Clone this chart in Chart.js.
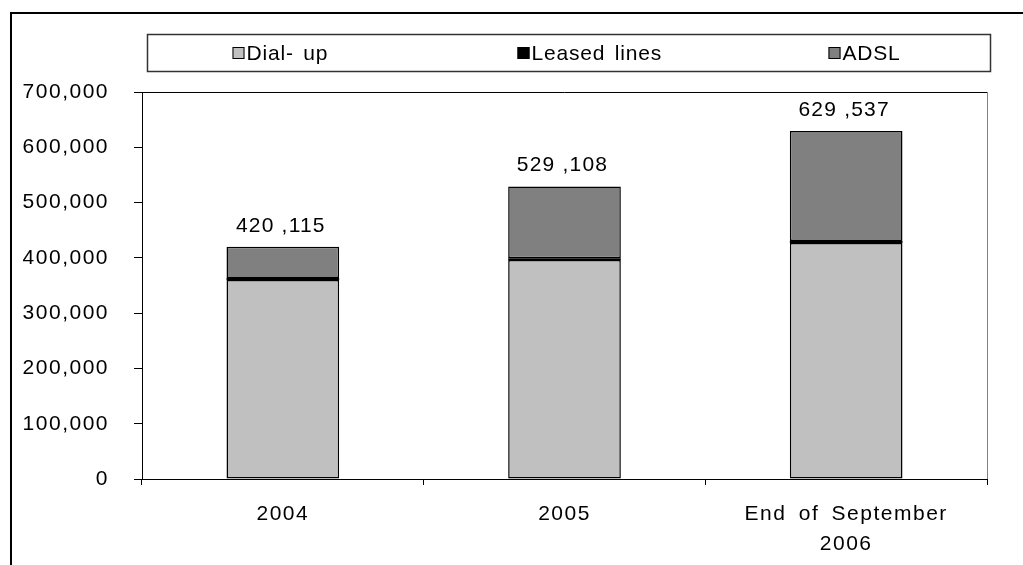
<!DOCTYPE html>
<html>
<head>
<meta charset="utf-8">
<script src="https://cdn.jsdelivr.net/npm/chart.js@4/dist/chart.umd.min.js"></script>
<style>
  html, body { margin: 0; padding: 0; background: #fff; }
  #wrap { width: 1023px; height: 565px; }
</style>
</head>
<body>
<div id="wrap"><canvas id="c" width="1023" height="565"></canvas></div>
<script>
// Internet subscribers by access type
const categories = ['2004', '2005', ['End of September', '2006']];
const seriesNames = ['Dial- up', 'Leased lines', 'ADSL'];
const dialUp = [360000, 396000, 427000];
const leasedLines = [3500, 3500, 3500];
const adsl = [56615, 129608, 199037];
const yTickValues = [0, 100000, 200000, 300000, 400000, 500000, 600000, 700000];
const seriesColors = ['#C0C0C0', '#000000', '#808080'];

const FONT = "'Liberation Sans', Arial, sans-serif";

function fmtTick(v) {
  return v.toLocaleString('en-US');
}
function fmtTotal(v) {
  const hi = Math.floor(v / 1000);
  const lo = String(v % 1000).padStart(3, '0');
  return hi + ' ,' + lo;
}

// wide text tracking used for the axis labels
function applySpacing(chart) {
  chart.ctx.letterSpacing = '1.5px';
  chart.ctx.wordSpacing = '5px';
}
const spacingPlugin = {
  id: 'spacing',
  beforeInit: applySpacing,
  beforeUpdate: applySpacing,
  beforeLayout: applySpacing,
  beforeDraw: applySpacing
};

// outer frame, legend box and stack totals
const legendOffsets = [85, 370, 681];
const framePlugin = {
  id: 'frame',
  beforeDraw(chart) {
    const ctx = chart.ctx;
    ctx.save();
    ctx.fillStyle = '#fff';
    ctx.fillRect(0, 0, chart.width, chart.height);
    ctx.strokeStyle = '#000';
    ctx.lineWidth = 2;
    ctx.beginPath();
    ctx.moveTo(11, chart.height);
    ctx.lineTo(11, 13);
    ctx.lineTo(chart.width, 13);
    ctx.stroke();

    // legend
    const bx = 147.5, by = 34.5, bw = 843, bh = 37;
    ctx.strokeStyle = '#333';
    ctx.lineWidth = 1.5;
    ctx.strokeRect(bx, by, bw, bh);
    ctx.font = '21px ' + FONT;
    ctx.letterSpacing = '0.8px';
    ctx.wordSpacing = '3px';
    ctx.textBaseline = 'middle';
    ctx.textAlign = 'left';
    const sq = 12;
    chart.data.datasets.forEach((d, i) => {
      const x0 = bx + legendOffsets[i];
      const cy = by + bh / 2;
      ctx.fillStyle = d.backgroundColor;
      ctx.fillRect(x0, cy - sq / 2, sq, sq);
      ctx.strokeStyle = '#000';
      ctx.lineWidth = 1;
      ctx.strokeRect(x0 + 0.5, cy - sq / 2 + 0.5, sq - 1, sq - 1);
      ctx.fillStyle = '#000';
      ctx.fillText(d.label, x0 + sq + 2, cy + 1);
    });
    ctx.restore();
  },
  afterDatasetsDraw(chart) {
    const ctx = chart.ctx;
    const a = chart.chartArea;
    ctx.save();
    // plot area border (top / right)
    ctx.lineWidth = 1;
    ctx.strokeStyle = '#000';
    ctx.beginPath();
    ctx.moveTo(a.left, a.top + 0.5);
    ctx.lineTo(a.right, a.top + 0.5);
    ctx.stroke();
    ctx.strokeStyle = '#808080';
    ctx.beginPath();
    ctx.moveTo(a.right + 0.5, a.top);
    ctx.lineTo(a.right + 0.5, a.bottom);
    ctx.stroke();

    // stack totals above bars
    const y = chart.scales.y;
    const meta = chart.getDatasetMeta(0);
    ctx.font = '21px ' + FONT;
    ctx.letterSpacing = '1.2px';
    ctx.wordSpacing = '0px';
    ctx.fillStyle = '#000';
    ctx.textAlign = 'center';
    ctx.textBaseline = 'alphabetic';
    chart.data.labels.forEach((_, i) => {
      let total = 0;
      chart.data.datasets.forEach(d => { total += d.data[i]; });
      const px = meta.data[i].x;
      const py = y.getPixelForValue(total);
      ctx.fillText(fmtTotal(total), px - 2, py - 15);
    });
    ctx.restore();
  }
};

const barStyle = {
  borderColor: '#000',
  borderWidth: 1.5,
  borderSkipped: false,
  categoryPercentage: 1.0,
  barPercentage: 0.4
};

const data = {
  labels: categories,
  datasets: [
    Object.assign({ label: seriesNames[0], data: dialUp, backgroundColor: seriesColors[0] }, barStyle),
    Object.assign({ label: seriesNames[1], data: leasedLines, backgroundColor: seriesColors[1] }, barStyle, { borderWidth: 0 }),
    Object.assign({ label: seriesNames[2], data: adsl, backgroundColor: seriesColors[2] }, barStyle)
  ]
};

new Chart(document.getElementById('c'), {
  type: 'bar',
  data: data,
  options: {
    responsive: false,
    animation: false,
    devicePixelRatio: 1,
    layout: { padding: { left: 12, right: 36, top: 92, bottom: 0 } },
    plugins: {
      legend: { display: false },
      tooltip: { enabled: false }
    },
    scales: {
      x: {
        stacked: true,
        grid: {
          drawOnChartArea: false,
          drawTicks: true,
          tickLength: 6,
          color: '#000',
          offset: true
        },
        border: { display: true, color: '#000', width: 1 },
        ticks: {
          color: '#000',
          padding: 14,
          maxRotation: 0,
          font: { family: FONT, size: 21, lineHeight: 1.43 }
        },
        afterFit(scale) { scale.height = 565 - 479; }
      },
      y: {
        stacked: true,
        min: 0,
        max: 700000,
        afterBuildTicks(scale) {
          scale.ticks = yTickValues.map(v => ({ value: v }));
        },
        grid: {
          drawOnChartArea: false,
          drawTicks: true,
          tickLength: 8,
          color: '#000'
        },
        border: { display: true, color: '#000', width: 1 },
        ticks: {
          color: '#000',
          padding: 25,
          font: { family: FONT, size: 21 },
          callback: (v) => fmtTick(v)
        },
        afterFit(scale) { scale.width = 130; }
      }
    }
  },
  plugins: [spacingPlugin, framePlugin]
});
</script>
</body>
</html>
